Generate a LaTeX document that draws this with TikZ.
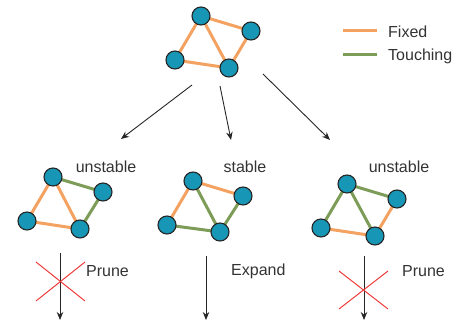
\documentclass[tikz,border=0pt]{standalone}
\usepackage{fontspec}
\setmainfont{Liberation Sans}
\usetikzlibrary{arrows.meta,backgrounds}
\definecolor{nodeteal}{HTML}{1896B5}
\definecolor{fixedc}{HTML}{F4A262}
\definecolor{touchc}{HTML}{7C9C58}
\definecolor{crossc}{HTML}{EE3A3A}
\definecolor{txtc}{HTML}{333333}
\tikzset{
  vtx/.style={circle, fill=nodeteal, draw=black!85, line width=1.1pt, minimum size=18pt, inner sep=0pt},
  fixedge/.style={draw=fixedc, line width=3pt},
  touchedge/.style={draw=touchc, line width=3pt},
  flow/.style={draw=black!85, line width=0.9pt, -{Stealth[length=8pt,width=6.5pt]}},
  crossline/.style={draw=crossc, line width=1pt},
  lbl/.style={font=\fontsize{16}{19}\selectfont, text=txtc, inner sep=0pt},
}
\begin{document}
\begin{tikzpicture}[x=1pt,y=-1pt]
\useasboundingbox (0,0) rectangle (459,320);
% vertices
\node[vtx] (tA) at (201,16) {};
\node[vtx] (tB) at (251,31) {};
\node[vtx] (tC) at (175,60) {};
\node[vtx] (tD) at (229,68) {};
\node[vtx] (lA) at (53,177) {};
\node[vtx] (lB) at (103,192) {};
\node[vtx] (lC) at (27,221) {};
\node[vtx] (lD) at (80,229) {};
\node[vtx] (mA) at (193,181) {};
\node[vtx] (mB) at (243,196) {};
\node[vtx] (mC) at (167,225) {};
\node[vtx] (mD) at (220,232) {};
\node[vtx] (rA) at (347,184) {};
\node[vtx] (rB) at (397,199) {};
\node[vtx] (rC) at (321,228) {};
\node[vtx] (rD) at (375,236) {};
\begin{scope}[on background layer]
% top graph
\draw[fixedge] (tA.center) -- (tB.center);
\draw[fixedge] (tA.center) -- (tC.center);
\draw[fixedge] (tA.center) -- (tD.center);
\draw[fixedge] (tB.center) -- (tD.center);
\draw[fixedge] (tC.center) -- (tD.center);
% left graph
\draw[touchedge] (lA.center) -- (lB.center);
\draw[fixedge] (lA.center) -- (lC.center);
\draw[fixedge] (lA.center) -- (lD.center);
\draw[touchedge] (lB.center) -- (lD.center);
\draw[fixedge] (lC.center) -- (lD.center);
% middle graph
\draw[fixedge] (mA.center) -- (mB.center);
\draw[fixedge] (mA.center) -- (mC.center);
\draw[touchedge] (mA.center) -- (mD.center);
\draw[touchedge] (mB.center) -- (mD.center);
\draw[touchedge] (mC.center) -- (mD.center);
% right graph
\draw[touchedge] (rA.center) -- (rB.center);
\draw[touchedge] (rA.center) -- (rC.center);
\draw[touchedge] (rA.center) -- (rD.center);
\draw[fixedge] (rB.center) -- (rD.center);
\draw[fixedge] (rC.center) -- (rD.center);
\end{scope}
% labels
\node[lbl] (lu) at (106,167) {unstable};
\node[lbl] (ms) at (245,167) {stable};
\node[lbl] (ru) at (399,167) {unstable};
% flow arrows from top
\coordinate (s1) at (192,85);
\coordinate (e1) at (121,139);
\coordinate (s2) at (220,86);
\coordinate (e2) at (231,140);
\coordinate (s3) at (263,74);
\coordinate (e3) at (330,140);
\draw[flow] (s1) -- (e1);
\draw[flow] (s2) -- (e2);
\draw[flow] (s3) -- (e3);
% bottom arrows
\coordinate (b1s) at (60,253);
\coordinate (b1e) at (60,320);
\coordinate (b2s) at (206,256);
\coordinate (b2e) at (206,320);
\coordinate (b3s) at (364,256);
\coordinate (b3e) at (364,320);
\draw[flow] (b1s) -- (b1e);
\draw[flow] (b2s) -- (b2e);
\draw[flow] (b3s) -- (b3e);
% crosses
\draw[crossline] (36,262) -- (85,301);
\draw[crossline] (36,301) -- (85,262);
\draw[crossline] (339,271) -- (388,309);
\draw[crossline] (339,309) -- (388,271);
% action labels
\node[lbl, anchor=west] (p1) at (86,271) {Prune};
\node[lbl, anchor=west] (ex) at (231,271) {Expand};
\node[lbl, anchor=west] (p2) at (402,271) {Prune};
% legend
\coordinate (lf1) at (343,31);
\coordinate (lf2) at (377,31);
\coordinate (lt1) at (343,55);
\coordinate (lt2) at (377,55);
\draw[fixedge] (lf1) -- (lf2);
\draw[touchedge] (lt1) -- (lt2);
\node[lbl, anchor=west] (fx) at (388,32) {Fixed};
\node[lbl, anchor=west] (tc) at (388,56) {Touching};
\end{tikzpicture}
\end{document}
